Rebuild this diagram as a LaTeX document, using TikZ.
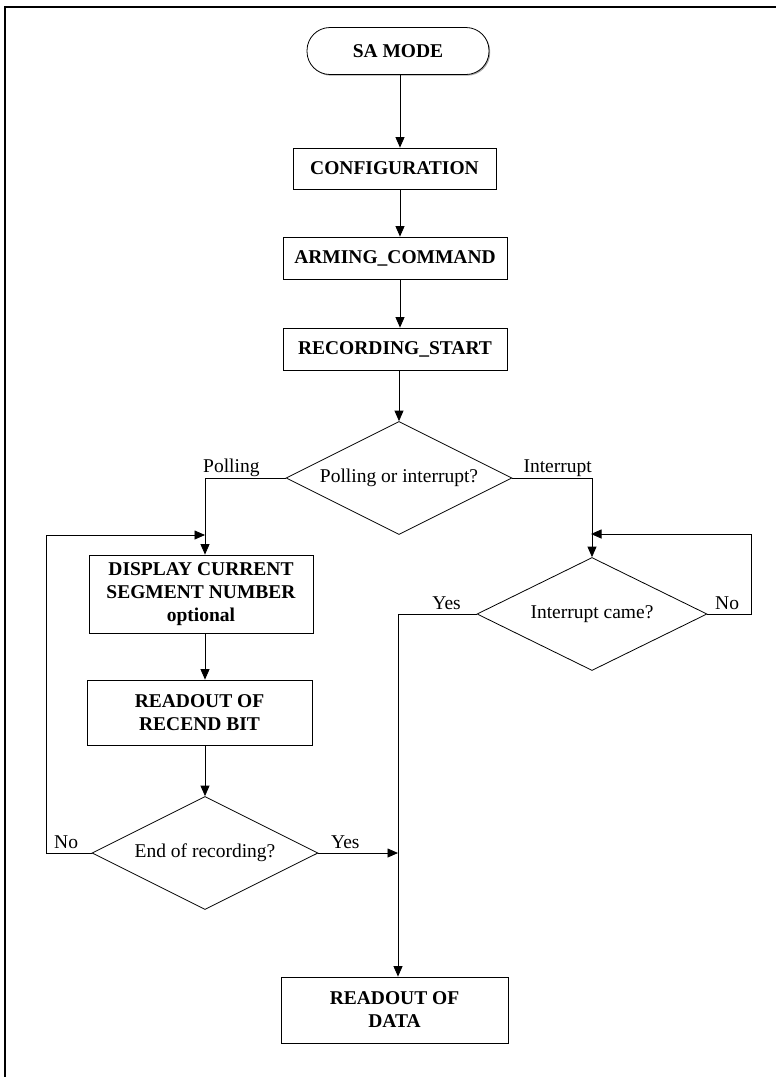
\documentclass[tikz,border=0pt]{standalone}
\usepackage{fontspec}
\setmainfont{Liberation Serif}
\usetikzlibrary{shapes.geometric,arrows.meta,shadows}
\begin{document}
\begin{tikzpicture}[x=1pt,y=1pt,
  every node/.style={font=\fontsize{19.5}{23}\selectfont},
  box/.style={draw=black, line width=0.8pt, fill=white, align=center, inner sep=0pt,
    font=\fontsize{19.5}{23}\selectfont\bfseries,
    drop shadow={shadow xshift=1.2pt, shadow yshift=-1.2pt, fill=gray!70, opacity=1}},
  term/.style={box, rounded corners=23pt},
  dec/.style={draw=black, line width=0.8pt, shape=diamond, aspect=2, inner sep=0pt, fill=white},
  conn/.style={draw=black, line width=0.8pt},
  arr/.style={conn, -{Triangle[length=10.5pt,width=9pt]}},
  lbl/.style={inner sep=0pt}
]
\useasboundingbox (0,0) rectangle (776,-1077);
\draw[line width=2.5pt] (776,-7) -- (5,-7) -- (5,-1077);

\coordinate (cx) at (400,0);
\coordinate (lx) at (205,0);
\coordinate (rx) at (591,0);
\coordinate (yx) at (398,0);
\coordinate (fbl) at (46,-535);
\coordinate (fbr) at (751,-534);

\node[term, minimum width=182, minimum height=47] (sa) at (398,-51) {SA MODE};
\node[box, minimum width=203, minimum height=41] (conf) at (394.5,-168.5) {CONFIGURATION};
\node[box, minimum width=224, minimum height=42] (arm) at (395,-258) {ARMING\_COMMAND};
\node[box, minimum width=224, minimum height=42] (rec) at (395,-349) {RECORDING\_START};
\node[dec, minimum width=226, minimum height=113] (poll) at (399,-478) {Polling or interrupt?};
\node[box, minimum width=224, minimum height=78] (disp) at (201,-594) {DISPLAY CURRENT\\SEGMENT NUMBER\\optional};
\node[box, minimum width=225, minimum height=65] (rb) at (199.5,-712.5) {READOUT OF\\RECEND BIT};
\node[dec, minimum width=226, minimum height=113] (endr) at (205,-853) {End of recording?};
\node[dec, minimum width=230, minimum height=113] (intc) at (592,-614) {Interrupt came?};
\node[box, minimum width=227, minimum height=66] (data) at (394.5,-1010) {READOUT OF\\DATA};

\draw[arr] (sa.south -| cx) -- (conf.north -| cx);
\draw[arr] (conf.south -| cx) -- (arm.north -| cx);
\draw[arr] (arm.south -| cx) -- (rec.north -| cx);
\draw[arr] (rec.south -| poll.north) -- (poll.north);
\draw[arr] (poll.west) -| (disp.north -| lx);
\draw[arr] (poll.east) -| (intc.north);
\draw[arr] (disp.south -| lx) -- (rb.north -| lx);
\draw[arr] (rb.south -| lx) -- (endr.north);
\draw[arr] (endr.west) -| (fbl) -- (fbl -| lx);
\draw[arr] (endr.east) -- (endr.east -| yx);
\draw[arr] (intc.west) -| (data.north -| yx);
\draw[arr] (intc.east) -| (fbr) -- (fbr -| rx);

\node[lbl, anchor=base west] (lpoll) at (203,-472) {Polling};
\node[lbl, anchor=base east] (lint) at (592,-472) {Interrupt};
\node[lbl, anchor=base east] (lyes1) at (461,-609) {Yes};
\node[lbl, anchor=base west] (lno1) at (715,-609) {No};
\node[lbl, anchor=base west] (lno2) at (54,-848) {No};
\node[lbl, anchor=base west] (lyes2) at (331,-848) {Yes};
\end{tikzpicture}
\end{document}
